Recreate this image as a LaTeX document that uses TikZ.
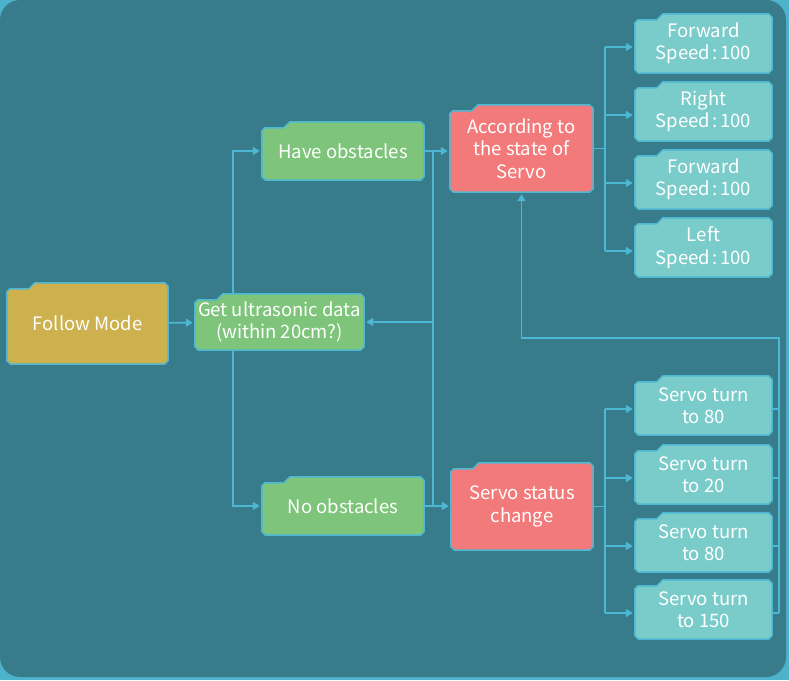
\documentclass[tikz,border=0pt]{standalone}
\usepackage{fontspec}
\setmainfont{Noto Sans CJK SC}
\usetikzlibrary{arrows.meta}
\usetikzlibrary{backgrounds}

\definecolor{outerblue}{HTML}{4DB3CC}
\definecolor{bgteal}{HTML}{387B8B}
\definecolor{lineblue}{HTML}{4DB8D3}
\definecolor{gold}{HTML}{CEB14F}
\definecolor{leaf}{HTML}{7EC57B}
\definecolor{salmon}{HTML}{F27A7A}
\definecolor{aqua}{HTML}{7ACCCB}

\tikzset{
  box/.style={align=center, text=white, inner sep=0pt, font=\fontsize{18.5}{22.5}\selectfont},
  boxline/.style={draw=lineblue, line width=1.5pt, line join=miter},
  link/.style={draw=lineblue, line width=1.6pt},
  arr/.style={link, -{Triangle[length=7pt,width=8pt]}, shorten >=2pt},
}

\begin{document}
\begin{tikzpicture}[x=1pt, y=1pt]
  \useasboundingbox (0,0) rectangle (789,680);

  % left part
  \node[box, minimum width=161pt, minimum height=81pt] (follow) at (87.5,356.5) {Follow Mode};
  \node[box, minimum width=169pt, minimum height=56pt] (get) at (279.5,358) {Get ultrasonic data\\(within 20cm?)};
  \node[box, minimum width=162pt, minimum height=58pt] (have) at (343,529) {Have obstacles};
  \node[box, minimum width=162pt, minimum height=58pt] (no) at (343,174) {No obstacles};
  \node[box, minimum width=143pt, minimum height=87pt] (acc) at (521.5,531.5) {According to\\the state of\\Servo};
  \node[box, minimum width=142pt, minimum height=87pt] (status) at (522,173.5) {Servo status\\change};

  % right column
  \foreach \n/\y/\t in {f1/636.5/Forward, f2/568.5/Right, f3/500.5/Forward, f4/432.5/Left}
    \node[box, minimum width=137pt, minimum height=59pt] (\n) at (703.5,\y) {\t\\Speed\kern2.5pt:\kern2.5pt100};
  \foreach \n/\y/\t in {s1/274.5/80, s2/205.5/20, s3/137.5/80, s4/70.5/150}
    \node[box, minimum width=137pt, minimum height=59pt] (\n) at (703.5,\y) {Servo turn\\to \t};

  % connectors
  \draw[arr] (follow) -- (get);
  \draw[arr] ([xshift=-46.5pt]get.north) |- (have.west);
  \draw[arr] ([xshift=-46.5pt]get.south) |- (no.west);
  \draw[arr] (have.east) -- (have.east -| acc.west);
  \draw[arr] (no.east) -- (no.east -| status.west);
  \coordinate (mid) at (433,357);
  \draw[link] (have.east -| mid) -- (no.east -| mid);
  \draw[arr] (get.east -| mid) -- (get.east);

  \coordinate (t1) at (605,531.5);
  \coordinate (t2) at (605,173.5);
  \draw[link] (acc.east) -- (acc.east -| t1);
  \draw[link] (status.east) -- (status.east -| t2);
  \foreach \n in {f1,f2,f3,f4,s1,s2,s3,s4}{
    \coordinate (\n-in) at ([yshift=-3.5pt]\n.west);
    \coordinate (\n-out) at ([yshift=-3.5pt]\n.east);
    \draw[arr] (t1 |- \n-in) -- (\n-in);
  }
  \draw[link] (t1 |- f1-in) -- (t1 |- f4-in);
  \draw[link] (t2 |- s1-in) -- (t2 |- s4-in);

  % back to servo
  \coordinate (back) at (779,342);
  \foreach \n in {s1,s2,s3,s4}
    \draw[link] (\n-out) -- (\n-out -| back);
  \draw[arr] (back |- s4-out) -- (back) -- (back -| acc.south) -- (acc.south);

  \begin{scope}[on background layer]
    \fill[outerblue] (0,0) rectangle (789,680);
    \fill[bgteal, rounded corners=20pt] (0,3) rectangle (786,680);
    \foreach \n/\c in {follow/gold, get/leaf, have/leaf, no/leaf, acc/salmon, status/salmon,
                       f1/aqua, f2/aqua, f3/aqua, f4/aqua, s1/aqua, s2/aqua, s3/aqua, s4/aqua}
      \draw[boxline, fill=\c] ([xshift=3.5pt]\n.south west) -- ([xshift=-3.5pt]\n.south east)
        -- ([yshift=3.5pt]\n.south east) -- ([yshift=-3.5pt]\n.north east)
        -- ([xshift=-3.5pt]\n.north east) -- ([xshift=28pt]\n.north west)
        -- ([xshift=22pt,yshift=-6pt]\n.north west) -- ([xshift=3pt,yshift=-6pt]\n.north west)
        -- ([yshift=-9pt]\n.north west) -- ([yshift=3.5pt]\n.south west) -- cycle;
  \end{scope}
\end{tikzpicture}
\end{document}
